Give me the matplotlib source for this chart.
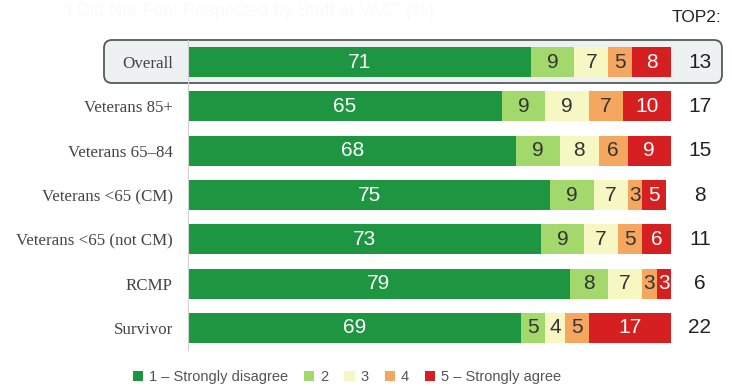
import matplotlib.pyplot as plt
import numpy as np
from matplotlib.patches import FancyBboxPatch, Patch

categories = ["Overall", "Veterans 85+", "Veterans 65\u201384", "Veterans <65 (CM)",
              "Veterans <65 (not CM)", "RCMP", "Survivor"]
s1 = [71, 65, 68, 75, 73, 79, 69]
s2 = [9, 9, 9, 9, 9, 8, 5]
s3 = [7, 9, 8, 7, 7, 7, 4]
s4 = [5, 7, 6, 3, 5, 3, 5]
s5 = [8, 10, 9, 5, 6, 3, 17]
top2 = [13, 17, 15, 8, 11, 6, 22]
series_names = ["1 \u2013 Strongly disagree", "2", "3", "4", "5 \u2013 Strongly agree"]

colors = ["#1e9641", "#a3d86c", "#f6f7c2", "#f5a65f", "#d51f20"]
text_cols = ["white", "#333333", "#333333", "#333333", "white"]

fig = plt.figure(figsize=(7.32, 3.88), dpi=100)
ax = fig.add_axes([188 / 732, 38 / 388, 483 / 732, 310 / 388])
ax.set_facecolor("none")

y = np.arange(len(categories))
left = np.zeros(len(categories))
for vals, c, tc in zip([s1, s2, s3, s4, s5], colors, text_cols):
    vals = np.array(vals)
    ax.barh(y, vals, left=left, height=0.68, color=c, edgecolor="none")
    for yi, v, l in zip(y, vals, left):
        ax.text(l + v / 2, yi, str(v), ha="center", va="center", color=tc,
                fontsize=15, family="Liberation Sans")
    left += vals

for yi, t in zip(y, top2):
    ax.text(106, yi, str(t), ha="center", va="center", color="#222222",
            fontsize=15, family="Liberation Sans", clip_on=False)

ax.set_xlim(0, 100)
ax.set_ylim(len(categories) - 0.5, -0.5)
ax.set_yticks(y)
ax.set_yticklabels(categories, family="Liberation Serif", fontsize=12.2, color="#444444")
ax.tick_params(axis="y", length=0, pad=11)
ax.set_xticks([])
for s in ["top", "right", "bottom"]:
    ax.spines[s].set_visible(False)
ax.spines["left"].set_color("#d0d0d0")

# box round the Overall row
box = FancyBboxPatch((1.04, 3.05), 6.18, 0.43, boxstyle="round,pad=0,rounding_size=0.08",
                     transform=fig.dpi_scale_trans, facecolor="#eef1f1",
                     edgecolor="#555a5e", linewidth=1.3, zorder=-1)
fig.patches.append(box)

fig.text(697 / 732, 1 - 18 / 388, "TOP2:", ha="center", va="center", fontsize=12.5,
         family="Liberation Sans", color="#222222")
fig.text(247 / 732, 1 - 12 / 388, "\u201cI Did Not Feel Respected by Staff at VAC\u201d (%)",
         ha="center", va="center", fontsize=13, family="Liberation Sans", color="#fafafa")

handles = [Patch(facecolor=c, edgecolor="none") for c in colors]
fig.legend(handles, series_names, loc="center", bbox_to_anchor=(0.474, 1 - 377 / 388),
           ncol=5, frameon=False, handlelength=0.7, handleheight=0.7, handletextpad=0.4,
           columnspacing=1.1, prop={"family": "Liberation Sans", "size": 10.5},
           labelcolor="#555555")

fig.savefig("out.png", dpi=100, facecolor="white")
